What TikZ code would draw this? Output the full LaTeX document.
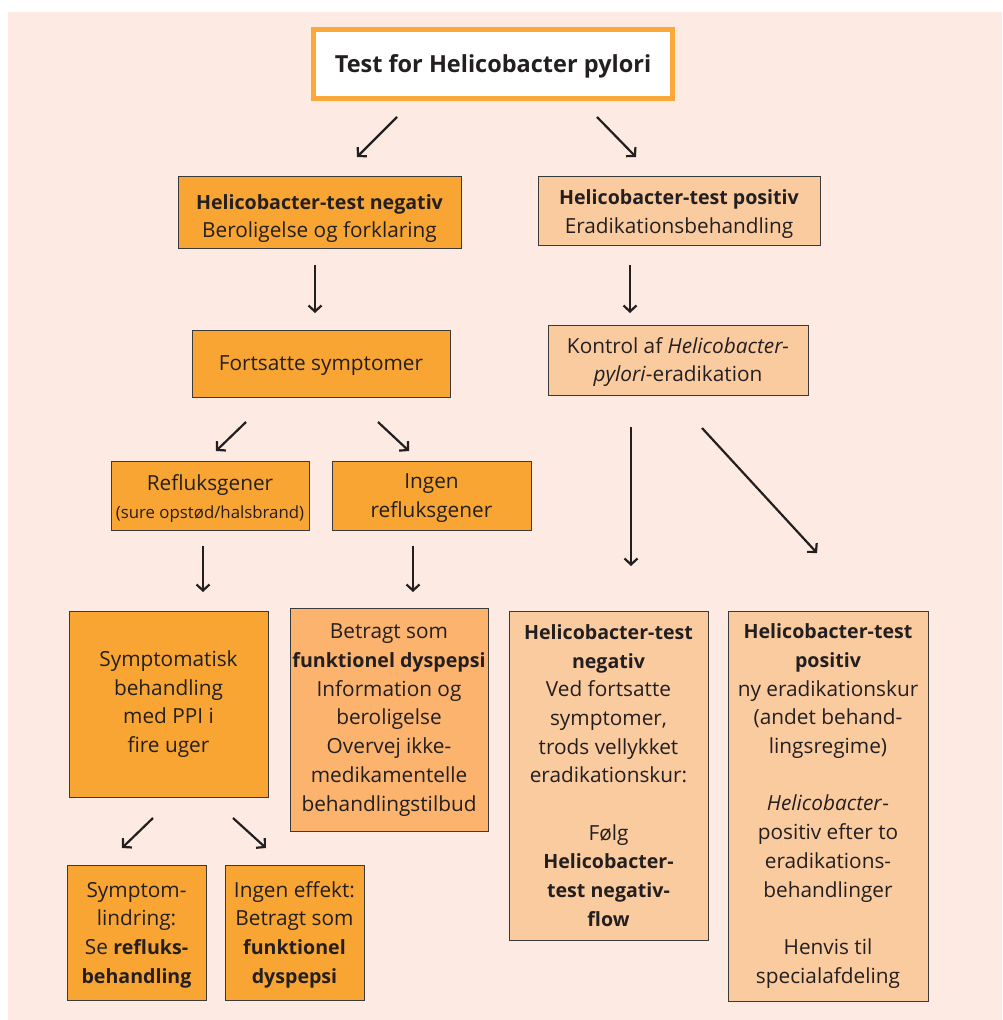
\documentclass[tikz,border=0pt]{standalone}
\usepackage{fontspec}
\setmainfont{Open Sans}
\usetikzlibrary{arrows.meta}
\definecolor{bgpink}{HTML}{FDEAE2}
\definecolor{orfill}{HTML}{F9A533}
\definecolor{orlight}{HTML}{FBB36E}
\definecolor{peach}{HTML}{FBCBA0}
\definecolor{edge}{HTML}{3A3A3A}
\definecolor{ink}{HTML}{231F20}
\definecolor{topedge}{HTML}{FBA93A}
\newcommand{\hb}[1]{{\fontsize{19.6}{28.7}\selectfont\bfseries #1}}
\newcommand{\dn}[1]{\rule{0pt}{#1pt}}
\tikzset{
  boxbase/.style={draw=edge, line width=1pt, align=center, inner sep=0pt, text=ink,
    font=\fontsize{20.8}{28.7}\selectfont},
  orbox/.style={boxbase, fill=orfill},
  lightbox/.style={boxbase, fill=orlight},
  peachbox/.style={boxbase, fill=peach},
  topbox/.style={draw=topedge, line width=5pt, fill=white, align=center, text=ink,
    font=\fontsize{23.5}{28}\selectfont\bfseries, minimum width=359pt, minimum height=69pt},
  arr/.style={draw=ink, line width=2.2pt, -{Straight Barb[length=6pt,width=13pt]}},
  dims/.style 2 args={minimum width=#1pt, minimum height=#2pt}
}
\begin{document}
\begin{tikzpicture}[x=1pt,y=-1pt]
\useasboundingbox (0,0) rectangle (1002,1020);
\fill[white] (0,0) rectangle (1002,1020);
\fill[bgpink] (8,12) rectangle (1002,1020);

\node[topbox] (top) at (493,64) {\dn{23}Test for Helicobacter pylori};

\node[orbox, dims={283}{72}] (neg1) at (319.5,212) {\dn{28}\hb{Helicobacter-test negativ}\\Beroligelse og forklaring};
\node[peachbox, dims={282}{69}] (pos1) at (679,210.5) {\dn{22}\hb{Helicobacter-test positiv}\\Eradikationsbehandling};
\node[orbox, dims={258}{67}] (fort) at (321,363.5) {\dn{18}Fortsatte symptomer};
\node[peachbox, dims={260}{70}] (kontrol) at (678,360) {\dn{20}Kontrol af \textit{Helicobacter-}\\\textit{pylori}-eradikation};
\node[orbox, dims={198}{69}] (reflux) at (210,495.5) {\dn{22}Refluksgener\\[0pt]{\fontsize{16.8}{20}\selectfont (sure opstød/halsbrand)}};
\node[orbox, dims={199}{69}] (ingen) at (431.5,495.5) {\dn{20}Ingen\\refluksgener};
\node[orbox, dims={199}{186}] (sympt) at (168.5,704) {Symptomatisk\\behandling\\med PPI i\\fire uger};
\node[lightbox, dims={198}{223}] (betragt) at (389,720) {Betragt som\\\hb{funktionel dyspepsi}\\Information og\\beroligelse\\Overvej ikke-\\medikamentelle\\behandlingstilbud};
\node[peachbox, dims={199}{329}] (hneg) at (608.5,775.5) {\hb{Helicobacter-test}\\\hb{negativ}\\Ved fortsatte\\symptomer,\\trods vellykket\\eradikationskur:\\[28.7pt]Følg\\\hb{Helicobacter-}\\\hb{test negativ-}\\\hb{flow}};
\node[peachbox, dims={200}{390}] (hpos) at (828,806) {\hb{Helicobacter-test}\\\hb{positiv}\\ny eradikationskur\\(andet behand-\\lingsregime)\\[28.7pt]\textit{Helicobacter}-\\positiv efter to\\eradikations-\\behandlinger\\[28.7pt]Henvis til\\specialafdeling};
\node[orbox, dims={139}{135}] (symlin) at (136.5,932.5) {\dn{20}Symptom-\\lindring:\\Se \hb{refluks-}\\\hb{behandling}};
\node[orbox, dims={139}{135}] (ingeff) at (294.5,932.5) {\dn{20}Ingen effekt:\\Betragt som\\\hb{funktionel}\\\hb{dyspepsi}};

% arrow endpoints
\coordinate (a1s) at (397,117); \coordinate (a1e) at (357,157);
\coordinate (a2s) at (597,117); \coordinate (a2e) at (636,157);
\coordinate (a3s) at (315,265); \coordinate (a3e) at (315,313);
\coordinate (a4s) at (630,265); \coordinate (a4e) at (630,313);
\coordinate (a5s) at (246,422); \coordinate (a5e) at (216,451);
\coordinate (a6s) at (378,422); \coordinate (a6e) at (409,451);
\coordinate (a7s) at (631,427); \coordinate (a7e) at (631,566);
\coordinate (a8s) at (702,428); \coordinate (a8e) at (817,553);
\coordinate (a9s) at (203,546); \coordinate (a9e) at (203,592);
\coordinate (a10s) at (413,546); \coordinate (a10e) at (413,592);
\coordinate (a11s) at (153,818); \coordinate (a11e) at (122,848);
\coordinate (a12s) at (233,818); \coordinate (a12e) at (266,848);

\draw[arr] (a1s) -- (a1e);
\draw[arr] (a2s) -- (a2e);
\draw[arr] (a3s) -- (a3e);
\draw[arr] (a4s) -- (a4e);
\draw[arr] (a5s) -- (a5e);
\draw[arr] (a6s) -- (a6e);
\draw[arr] (a7s) -- (a7e);
\draw[arr] (a8s) -- (a8e);
\draw[arr] (a9s) -- (a9e);
\draw[arr] (a10s) -- (a10e);
\draw[arr] (a11s) -- (a11e);
\draw[arr] (a12s) -- (a12e);
\end{tikzpicture}
\end{document}
